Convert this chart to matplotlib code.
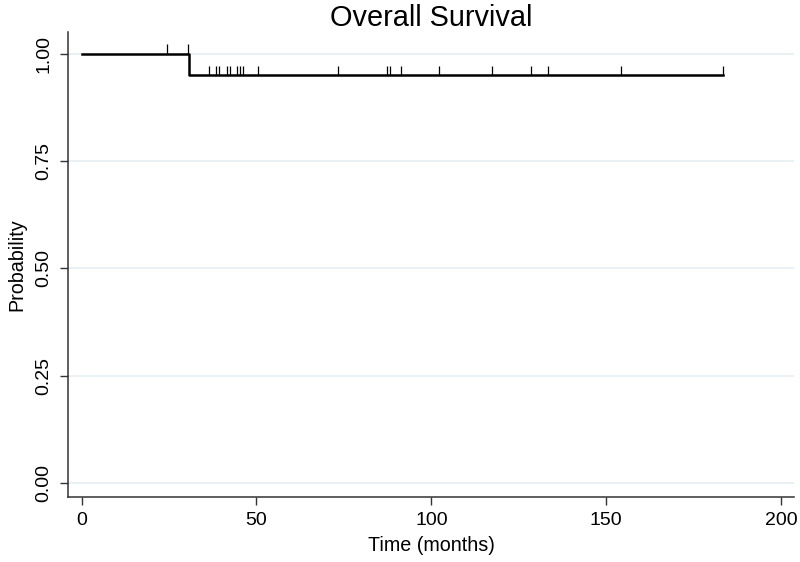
import matplotlib
matplotlib.use("Agg")
import matplotlib.pyplot as plt

plt.rcParams['font.family'] = ['Liberation Sans', 'DejaVu Sans']

# Kaplan-Meier step data (months, survival probability)
step_times = [0, 30.8, 183.5]
step_surv = [1.0, 0.95, 0.95]

# censored observations
censor_before = [24.3, 30.3]
censor_after = [36.4, 38.3, 39.2, 41.5, 42.5, 44.3, 45.3, 46.2, 50.3,
                73.4, 87.2, 88.3, 91.2, 102.3, 117.3, 128.4, 133.4,
                154.2, 183.5]

yticks = [0.0, 0.25, 0.5, 0.75, 1.0]
ytick_labels = ['0.00', '0.25', '0.50', '0.75', '1.00']
xticks = [0, 50, 100, 150, 200]

fig = plt.figure(figsize=(8, 5.62), dpi=100)
ax = fig.add_axes([68/800, 1 - 497/562, (794-68)/800, (497-32)/562])

ax.step(step_times, step_surv, where='post', color='black', lw=1.8)

ax.vlines(censor_before, 1.0, 1.0 + 0.022, color='black', lw=0.9)
ax.vlines(censor_after, 0.95, 0.95 + 0.022, color='black', lw=0.9)

ax.set_xlim(-3.9, 203.7)
ax.set_ylim(-0.033, 1.051)
ax.set_yticks(yticks)
ax.set_yticklabels(ytick_labels, rotation=90, va='center')
ax.set_xticks(xticks)
ax.yaxis.grid(True, color='#e6eff2', lw=1.2)
ax.set_axisbelow(True)

for s in ['top', 'right']:
    ax.spines[s].set_visible(False)
for s in ['left', 'bottom']:
    ax.spines[s].set_linewidth(1.1)
    ax.spines[s].set_color('#333333')

ax.tick_params(axis='both', labelsize=14, length=6, width=1, color='#333333', pad=5)
ax.set_xlabel('Time (months)', fontsize=14.2, labelpad=5)
ax.set_ylabel('Probability', fontsize=14.2, labelpad=7)
ax.set_title('Overall Survival', fontsize=20.8, pad=4)

fig.savefig('out.png', dpi=100)
